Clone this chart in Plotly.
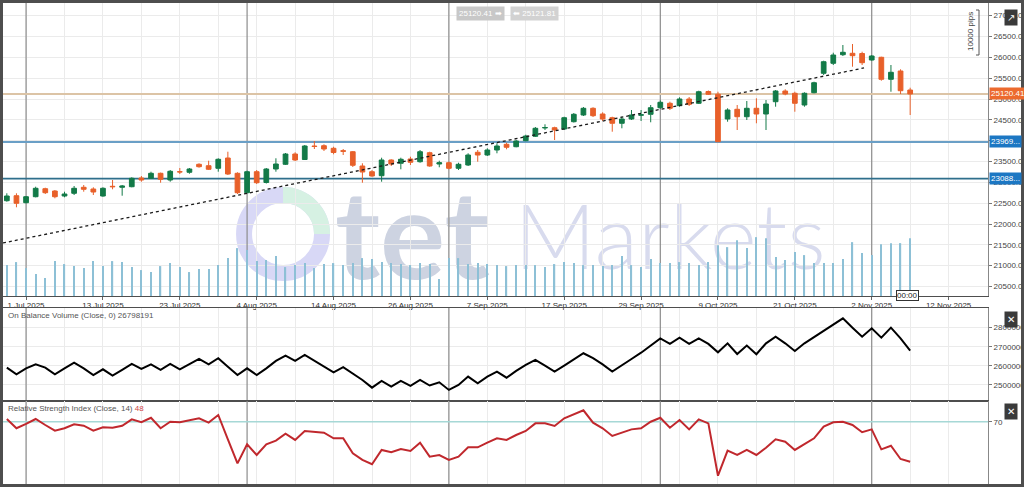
import plotly.graph_objects as go

W, H = 1024, 487

# ---------------- data ----------------
tick_idx = [2, 10, 18, 26, 34, 42, 50, 58, 66, 74, 82, 90, 98]
tick_labels = ["1 Jul 2025", "13 Jul 2025", "23 Jul 2025", "4 Aug 2025", "14 Aug 2025",
               "26 Aug 2025", "7 Sep 2025", "17 Sep 2025", "29 Sep 2025", "9 Oct 2025",
               "21 Oct 2025", "2 Nov 2025", "12 Nov 2025"]
month_start_idx = [2, 25, 46, 68, 90]

open_ = [22559, 22679, 22511, 22655, 22847, 22792, 22672, 22737, 22881, 22840,
         22672, 22905, 22881, 22895, 23104, 23097, 23217, 23056, 23255, 23241,
         23433, 23399, 23337, 23584, 23217, 22751, 23255, 22996, 23320, 23433,
         23680, 23548, 23872, 23879, 23817, 23760, 23735, 23392, 23255, 23159,
         23536, 23457, 23560, 23495, 23711, 23440, 23471, 23337, 23416, 23721,
         23656, 23776, 23913, 23855, 24000, 24105, 24305, 24311, 24280, 24455,
         24616, 24777, 24640, 24551, 24417, 24520, 24610, 24633, 24791, 24897,
         24839, 25000, 24897, 25180, 25115, 24520, 24753, 24575, 24777, 24640,
         24935, 25192, 25137, 24856, 25151, 25617, 25857, 26063, 26097, 26092,
         25936, 26001, 25473, 25672, 25216]
high = [22737, 22737, 22672, 22895, 22871, 22816, 22775, 22912, 22936, 22881,
        22881, 23056, 22936, 23121, 23152, 23255, 23233, 23296, 23344, 23344,
        23457, 23519, 23577, 23735, 23241, 23279, 23296, 23344, 23577, 23704,
        23721, 23896, 23992, 23913, 23855, 23800, 23752, 23457, 23296, 23591,
        23553, 23591, 23615, 23776, 23735, 23519, 23495, 23471, 23697, 23776,
        23817, 23937, 23951, 24016, 24143, 24328, 24393, 24335, 24575, 24664,
        24808, 24801, 24681, 24575, 24575, 24736, 24736, 24856, 24964, 24935,
        25041, 25048, 25199, 25204, 25175, 24777, 24856, 24952, 25017, 24976,
        25216, 25233, 25175, 25161, 25415, 25919, 26111, 26296, 26320, 26135,
        26056, 26015, 25816, 25713, 25271]
low = [22535, 22401, 22497, 22640, 22720, 22617, 22641, 22696, 22775, 22696,
       22655, 22833, 22679, 22881, 23015, 23080, 22991, 23015, 23200, 23207,
       23351, 23296, 23255, 23176, 22720, 22737, 22960, 22972, 23255, 23416,
       23512, 23536, 23800, 23752, 23673, 23656, 23368, 22991, 23135, 23015,
       23392, 23313, 23416, 23471, 23375, 23361, 23313, 23296, 23392, 23495,
       23632, 23697, 23793, 23841, 23985, 24088, 24256, 24016, 24256, 24436,
       24592, 24568, 24472, 24215, 24297, 24496, 24472, 24441, 24767, 24736,
       24815, 24832, 24880, 25096, 23969, 24455, 24256, 24496, 24417, 24256,
       24815, 25089, 24695, 24815, 25137, 25576, 25816, 26032, 25775, 25816,
       25919, 25439, 25175, 25120, 24616]
close = [22672, 22497, 22655, 22857, 22751, 22655, 22720, 22857, 22833, 22768,
         22857, 22895, 22912, 23097, 23056, 23217, 23073, 23265, 23250, 23320,
         23375, 23313, 23553, 23200, 22751, 23255, 22991, 23320, 23440, 23680,
         23536, 23872, 23860, 23800, 23716, 23745, 23409, 23248, 23152, 23536,
         23440, 23553, 23481, 23735, 23392, 23471, 23337, 23433, 23656, 23656,
         23776, 23872, 23841, 23992, 24112, 24297, 24315, 24256, 24551, 24633,
         24777, 24599, 24520, 24417, 24520, 24616, 24622, 24791, 24921, 24777,
         25000, 24873, 25175, 25113, 23975, 24736, 24575, 24777, 24640, 24880,
         25192, 25120, 24897, 25137, 25391, 25895, 26056, 26121, 26039, 25871,
         26032, 25473, 25641, 25199, 25120.41]
volume = [496000, 544000, 448000, 352000, 288000, 560000, 512000, 480000, 448000, 560000,
          480000, 560000, 544000, 464000, 416000, 384000, 480000, 528000, 464000, 384000,
          432000, 432000, 496000, 608000, 768000, 736000, 560000, 576000, 640000, 464000,
          496000, 528000, 448000, 512000, 528000, 496000, 528000, 608000, 592000, 544000,
          528000, 512000, 496000, 528000, 512000, 272000, 608000, 608000, 512000, 528000,
          512000, 496000, 480000, 496000, 496000, 496000, 464000, 512000, 544000, 528000,
          496000, 496000, 480000, 496000, 640000, 496000, 464000, 592000, 528000, 528000,
          544000, 528000, 496000, 544000, 816000, 784000, 896000, 768000, 944000, 928000,
          624000, 576000, 704000, 656000, 528000, 528000, 528000, 592000, 864000, 688000,
          656000, 832000, 848000, 848000, 928000]
obv = [25910000, 25560000, 25870000, 26080000, 25910000, 25560000, 25870000, 26170000, 25870000, 25520000,
       25820000, 25490000, 25790000, 26100000, 25840000, 26080000, 25790000, 26100000, 25820000, 26100000,
       26360000, 26080000, 26400000, 25960000, 25520000, 25870000, 25520000, 25870000, 26260000, 26540000,
       26260000, 26570000, 26270000, 25960000, 25660000, 25930000, 25610000, 25260000, 24860000, 25210000,
       24910000, 25210000, 24950000, 25260000, 24970000, 25140000, 24740000, 25000000, 25440000, 25090000,
       25440000, 25700000, 25380000, 25740000, 26050000, 26310000, 26010000, 25700000, 26010000, 26340000,
       26660000, 26400000, 26080000, 25700000, 26050000, 26360000, 26690000, 27060000, 27440000, 27150000,
       27480000, 27150000, 27440000, 27150000, 26710000, 27180000, 26620000, 27060000, 26610000, 27180000,
       27530000, 27180000, 26780000, 27180000, 27500000, 27830000, 28140000, 28490000, 28000000, 27530000,
       27970000, 27480000, 28000000, 27440000, 26798191]
rsi = [71.5, 66.4, 68.8, 71.5, 68.2, 65.1, 66.4, 68.6, 67.8, 65.1,
       66.9, 66.7, 67.8, 71.3, 69.7, 72.2, 66.4, 70.0, 69.7, 70.6,
       71.9, 69.5, 73.7, 60.3, 47.1, 57.6, 51.7, 57.6, 59.6, 63.4,
       60.0, 64.9, 64.5, 64.0, 60.9, 60.9, 52.6, 49.0, 46.6, 54.5,
       53.2, 55.0, 53.9, 58.5, 50.8, 51.7, 49.0, 50.8, 55.9, 55.9,
       58.5, 60.9, 60.0, 62.7, 64.9, 69.1, 69.1, 67.7, 71.9, 74.3,
       76.3, 69.5, 66.4, 62.2, 64.2, 65.8, 66.4, 70.0, 72.2, 66.7,
       70.9, 65.8, 71.3, 69.1, 40.3, 54.1, 51.7, 54.5, 51.7, 55.7,
       60.3, 59.0, 54.5, 57.6, 60.9, 67.3, 69.7, 70.0, 68.2, 64.2,
       65.8, 54.8, 56.8, 49.5, 48.0]

trend_x = [-0.4, 89.2]
trend_y = [21545, 25745]

last_price = 25120.41
ask_price = 25121.81
level_1 = 23969
level_2 = 23088
rsi_level = 70
obv_last = 26798191
rsi_last = 48
price_ticks = list(range(20500, 27001, 500))
obv_ticks = [25000000, 26000000, 27000000, 28000000]

idx = list(range(len(close)))

# ---------------- styling ----------------
GREEN = "#137a48"
RED = "#e8602a"
GRID = "#ebebeb"
FRAME = "#4e4e4e"
FONT = "Liberation Sans"

def fx(p):
    return p / W

def fy(p):
    return 1 - p / H

x_dom = [fx(3), fx(988)]
main_dom = [fy(296), fy(3)]
obv_dom = [fy(401), fy(308)]
rsi_dom = [fy(485), fy(401)]
x_range = [-0.4, 102.1]
price_range = [20272, 27304]
obv_range = [24160000, 29030000]
rsi_range = [35.2, 81.4]

fig = go.Figure()

# candles (price axis y)
fig.add_trace(go.Candlestick(x=idx, open=open_, high=high, low=low, close=close,
                             increasing=dict(line=dict(color=GREEN, width=1), fillcolor=GREEN),
                             decreasing=dict(line=dict(color=RED, width=1), fillcolor=RED),
                             whiskerwidth=0, xaxis="x", yaxis="y", showlegend=False))
# dotted trend line
fig.add_trace(go.Scatter(x=trend_x, y=trend_y, mode="lines",
                         line=dict(color="#1a1a1a", width=1.3, dash="dot"),
                         xaxis="x", yaxis="y", showlegend=False, hoverinfo="skip"))
# volume bars (hidden overlay axis y4)
fig.add_trace(go.Bar(x=idx, y=volume, width=0.13, marker=dict(color="#8dc0d6", line=dict(width=0)),
                     xaxis="x", yaxis="y4", hoverinfo="skip", showlegend=False))
# OBV
fig.add_trace(go.Scatter(x=idx, y=obv, mode="lines", line=dict(color="#000000", width=2),
                         xaxis="x2", yaxis="y2", showlegend=False))
# RSI
fig.add_trace(go.Scatter(x=idx, y=rsi, mode="lines", line=dict(color="#c0282d", width=2),
                         xaxis="x3", yaxis="y3", showlegend=False))

xcommon = dict(range=x_range, domain=x_dom, showgrid=True, gridcolor=GRID, gridwidth=1,
               tickmode="array", tickvals=tick_idx, ticktext=tick_labels,
               minor=dict(tickmode="linear", tick0=2, dtick=4, showgrid=True, gridcolor=GRID, gridwidth=1),
               zeroline=False, showline=True, linecolor=FRAME, linewidth=1,
               fixedrange=True, automargin=False)
ycommon = dict(side="right", zeroline=False, ticks="outside", ticklen=3, tickcolor="#777",
               tickfont=dict(size=8, color="#444"), showline=True, linecolor="#888",
               linewidth=1, automargin=False, fixedrange=True)

fig.update_layout(
    width=W, height=H,
    margin=dict(l=0, r=0, t=0, b=0, autoexpand=False),
    paper_bgcolor="white", plot_bgcolor="white",
    font=dict(family=FONT, size=8, color="#333"),
    showlegend=False,
    xaxis=dict(**xcommon, anchor="y", ticks="outside", ticklen=3, tickcolor="#666",
               ticklabelstandoff=-2,
               tickfont=dict(size=8, color="#333"), rangeslider=dict(visible=False)),
    xaxis2=dict(**xcommon, anchor="y2", matches="x", showticklabels=False, mirror=True),
    xaxis3=dict(**xcommon, anchor="y3", matches="x", showticklabels=False, mirror=True),
    yaxis=dict(**ycommon, domain=main_dom, anchor="x",
               range=price_range, tickmode="array", tickvals=price_ticks,
               tickformat=".2f", showgrid=True, gridcolor=GRID),
    yaxis4=dict(domain=main_dom, overlaying="y", range=[0, 4700000], visible=False,
                showgrid=False, anchor="x", fixedrange=True),
    yaxis2=dict(**ycommon, domain=obv_dom, anchor="x2", range=obv_range,
                tickmode="array", tickvals=obv_ticks, tickformat="d",
                showgrid=True, gridcolor=GRID),
    yaxis3=dict(**ycommon, domain=rsi_dom, anchor="x3", range=rsi_range,
                tickmode="array", tickvals=[rsi_level], showgrid=False),
)

shapes = []
# month separators in all panels
for m in month_start_idx:
    for xr, yr, rg in (("x", "y", price_range), ("x2", "y2", obv_range), ("x3", "y3", rsi_range)):
        shapes.append(dict(type="line", xref=xr, yref=yr, x0=m, x1=m, y0=rg[0], y1=rg[1],
                           line=dict(color="#8c8c8c", width=1.2), layer="between"))
# price levels
for lvl, col, wd in ((last_price, "#dcc4a6", 2), (level_1, "#6a9fc6", 2), (level_2, "#2f6f8c", 1.6)):
    shapes.append(dict(type="line", xref="x", yref="y", x0=x_range[0], x1=x_range[1], y0=lvl, y1=lvl,
                       line=dict(color=col, width=wd), layer="between"))
# RSI 70 level
shapes.append(dict(type="line", xref="x3", yref="y3", x0=x_range[0], x1=x_range[1], y0=rsi_level, y1=rsi_level,
                   line=dict(color="#a6d8d6", width=1.5), layer="between"))

# watermark (below traces) -- placed in data units of the main panel
def wx(p):
    return (p - 6.8) / 9.61

def wy(p):
    return 25000 + (99 - p) * 24.0

cx, cy, r = 283, 234, 39
shapes.append(dict(type="circle", xref="x", yref="y",
                   x0=wx(cx - r), x1=wx(cx + r), y0=wy(cy + r), y1=wy(cy - r),
                   line=dict(color="#d8d8f6", width=16), layer="below"))
k = 0.5523 * r
shapes.append(dict(type="path", xref="x", yref="y",
                   path=(f"M {wx(cx)} {wy(cy - r)} C {wx(cx + k)} {wy(cy - r)} "
                         f"{wx(cx + r)} {wy(cy - k)} {wx(cx + r)} {wy(cy)}"),
                   line=dict(color="#d6f1e3", width=16), layer="below"))
shapes.append(dict(type="rect", xref="x", yref="y",
                   x0=wx(325), x1=wx(500), y0=wy(290), y1=wy(170),
                   line=dict(width=0), fillcolor="rgba(0,0,0,0)", layer="below",
                   label=dict(text="tet", textposition="middle center",
                              font=dict(family="Lato", size=122, color="#cdd3e1", weight="bold"))))
shapes.append(dict(type="rect", xref="x", yref="y",
                   x0=wx(495), x1=wx(845), y0=wy(285), y1=wy(180),
                   line=dict(width=0), fillcolor="rgba(0,0,0,0)", layer="below",
                   label=dict(text="Markets", textposition="middle center",
                              font=dict(family="Lato", size=90, color="#d8dbee", weight=300))))

# outer frame
shapes.append(dict(type="rect", xref="paper", yref="paper", x0=0, x1=1, y0=0, y1=1,
                   line=dict(color=FRAME, width=6), layer="above"))
# pips bracket
shapes.append(dict(type="path", xref="paper", yref="paper", layer="above",
                   path=f"M {fx(976)} {fy(10)} L {fx(979)} {fy(10)} L {fx(979)} {fy(55)} L {fx(976)} {fy(55)}",
                   line=dict(color="#555", width=1)))

fig.update_layout(shapes=shapes)

ann = []
# right side price labels
ann.append(dict(xref="paper", yref="y", x=fx(989), y=last_price, xanchor="left", yanchor="middle",
                text=f"{last_price:.2f}", showarrow=False, bgcolor="#ec6a2e",
                font=dict(color="white", size=8), borderpad=1))
ann.append(dict(xref="paper", yref="y", x=fx(989), y=level_1, xanchor="left", yanchor="middle",
                text=f"{level_1}...", showarrow=False, bgcolor="#1c77c3",
                font=dict(color="white", size=8), borderpad=1))
ann.append(dict(xref="paper", yref="y", x=fx(989), y=level_2, xanchor="left", yanchor="middle",
                text=f"{level_2}...", showarrow=False, bgcolor="#1c77c3",
                font=dict(color="white", size=8), borderpad=1))
# top bid/ask pills
ann.append(dict(xref="paper", yref="paper", x=fx(480), y=fy(13), xanchor="center", yanchor="middle",
                text=f"{last_price:.2f} ➡", showarrow=False, bgcolor="#c8c8c8",
                font=dict(color="white", size=8), borderpad=2))
ann.append(dict(xref="paper", yref="paper", x=fx(534), y=fy(13), xanchor="center", yanchor="middle",
                text=f"⬅ {ask_price:.2f}", showarrow=False, bgcolor="#d2d2d2",
                font=dict(color="white", size=8), borderpad=2))
# pips text
ann.append(dict(xref="paper", yref="paper", x=fx(971), y=fy(32), xanchor="center", yanchor="middle",
                text="10000 pips", textangle=-90, showarrow=False,
                font=dict(color="#444", size=8)))
# time box
ann.append(dict(xref="paper", yref="paper", x=fx(907), y=fy(295), xanchor="center", yanchor="middle",
                text="00:00", showarrow=False, bgcolor="white", bordercolor="#333", borderwidth=1,
                font=dict(color="#222", size=8), borderpad=0))
# indicator titles
ann.append(dict(xref="paper", yref="paper", x=fx(6), y=fy(315), xanchor="left", yanchor="middle",
                text=f"On Balance Volume (Close, 0) {obv_last}", showarrow=False,
                font=dict(color="#555", size=8)))
ann.append(dict(xref="paper", yref="paper", x=fx(6), y=fy(408), xanchor="left", yanchor="middle",
                text=f"Relative Strength Index (Close, 14) <span style='color:#d04545'>{rsi_last}</span>",
                showarrow=False, font=dict(color="#555", size=8)))
# icon buttons
for ypix, txt in ((17, "↗"), (319, "✕"), (411, "✕")):
    ann.append(dict(xref="paper", yref="paper", x=fx(1011), y=fy(ypix), xanchor="center", yanchor="middle",
                    text=txt, showarrow=False, bgcolor="#3a3a3a",
                    font=dict(color="white", size=10), borderpad=2))
fig.update_layout(annotations=ann)

fig.write_html("out.html", config={"displayModeBar": False},
               post_script="document.body.style.margin='0px';document.body.style.overflow='hidden';")
